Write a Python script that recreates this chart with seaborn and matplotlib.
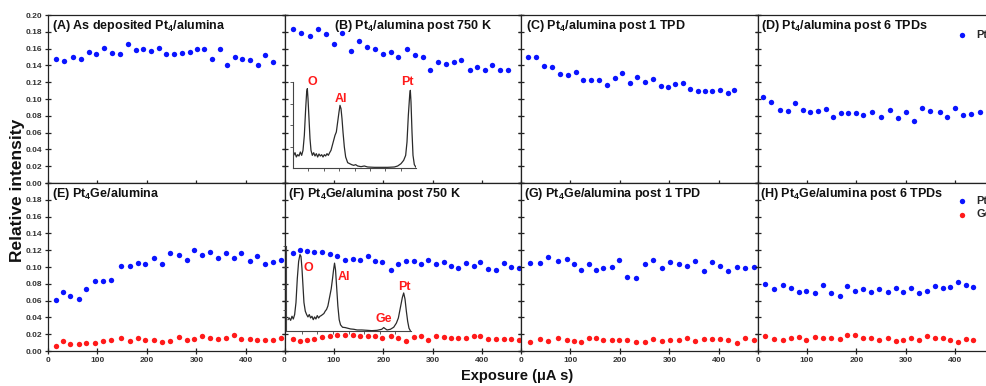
import numpy as np
import pandas as pd
import matplotlib
matplotlib.use("Agg")
import matplotlib.pyplot as plt
import seaborn as sns

# ---------------- data ----------------
panel_titles = [
    "(A) As deposited Pt$_4$/alumina",
    "(B) Pt$_4$/alumina post 750 K",
    "(C) Pt$_4$/alumina post 1 TPD",
    "(D) Pt$_4$/alumina post 6 TPDs",
    "(E) Pt$_4$Ge/alumina",
    "(F) Pt$_4$Ge/alumina post 750 K",
    "(G) Pt$_4$Ge/alumina post 1 TPD",
    "(H) Pt$_4$Ge/alumina post 6 TPDs",
]

xA = [16, 32, 51, 66, 82, 98, 114, 130, 145, 161, 177, 193, 208, 224, 239, 254, 270, 286, 301, 316,
      332, 347, 362, 378, 393, 409, 424, 439, 454]
ptA = [.148, .145, .150, .148, .156, .154, .161, .155, .154, .166, .158, .160, .157, .161, .154, .154,
       .155, .156, .160, .160, .148, .160, .141, .150, .148, .146, .141, .152, .144]

xB = [17, 34, 51, 68, 84, 100, 117, 134, 150, 166, 183, 199, 215, 230, 247, 263, 279, 295, 310, 326,
      342, 357, 374, 389, 405, 420, 436, 451]
ptB = [.183, .178, .175, .183, .177, .165, .179, .157, .169, .162, .160, .154, .156, .150, .159, .152,
       .150, .135, .144, .142, .144, .147, .134, .138, .134, .140, .134, .135]

xC = [15, 30, 47, 63, 79, 95, 112, 126, 142, 158, 173, 189, 204, 220, 235, 251, 266, 282, 298, 312,
      327, 342, 357, 372, 387, 403, 418, 430]
ptC = [.150, .150, .139, .138, .130, .129, .132, .123, .123, .123, .117, .125, .131, .119, .126, .120,
       .124, .116, .114, .118, .119, .112, .110, .110, .110, .111, .107, .111]

xD = [12, 28, 45, 61, 76, 92, 107, 122, 138, 153, 168, 183, 199, 214, 232, 249, 267, 283, 300, 316,
      333, 349, 368, 384, 400, 416, 432, 449]
ptD = [.102, .096, .087, .086, .095, .087, .084, .086, .088, .079, .083, .083, .083, .081, .085, .079,
       .087, .077, .084, .074, .089, .086, .085, .079, .089, .081, .082, .085]

xE = [16, 31, 45, 62, 77, 95, 111, 128, 147, 165, 181, 197, 214, 230, 247, 264, 280, 296, 312, 327,
      343, 360, 375, 391, 408, 423, 439, 455, 470]
ptE = [.061, .070, .065, .062, .074, .083, .083, .084, .101, .101, .105, .104, .111, .104, .117, .114,
       .108, .120, .114, .118, .111, .117, .111, .117, .107, .113, .104, .106, .108]
geE = [.006, .012, .008, .008, .0095, .009, .012, .0127, .016, .012, .015, .013, .0135, .011, .0115,
       .0167, .0135, .0147, .018, .016, .0143, .016, .0195, .0147, .0143, .013, .0135, .0127, .0155]

xF = [17, 32, 45, 60, 76, 91, 107, 122, 138, 153, 168, 183, 198, 215, 230, 246, 261, 275, 291, 306,
      322, 337, 351, 367, 382, 396, 412, 428, 443, 458, 473]
ptF = [.117, .120, .119, .118, .118, .116, .113, .108, .110, .1085, .113, .107, .106, .097, .104, .107,
       .107, .103, .108, .104, .106, .101, .099, .105, .101, .106, .098, .097, .105, .100, .099]
geF = [.0147, .0115, .0135, .0147, .0163, .0175, .0187, .0187, .0187, .0175, .0175, .018, .016, .018,
       .016, .012, .017, .0175, .0135, .0175, .017, .0155, .0155, .015, .0175, .018, .0147, .014, .014,
       .014, .013]

xG = [19, 39, 55, 75, 92, 107, 122, 138, 151, 166, 183, 199, 214, 233, 250, 267, 285, 301, 320, 336,
      352, 370, 387, 403, 419, 437, 453, 470]
ptG = [.105, .105, .112, .107, .110, .104, .097, .104, .096, .099, .100, .108, .088, .087, .104, .108,
       .099, .106, .104, .101, .107, .095, .106, .101, .095, .100, .099, .100]
geG = [.011, .014, .012, .016, .0127, .012, .011, .016, .0155, .0127, .0127, .0127, .0127, .011, .011,
       .014, .0115, .0135, .0135, .016, .012, .014, .014, .014, .013, .009, .015, .0135]

xH = [16, 33, 51, 67, 83, 99, 117, 133, 149, 166, 181, 198, 214, 230, 246, 263, 279, 294, 311, 327,
      342, 358, 374, 390, 406, 421, 435]
ptH = [.080, .074, .078, .075, .070, .072, .069, .079, .0695, .066, .0775, .072, .074, .0707, .074,
       .0707, .075, .070, .0755, .069, .0715, .077, .0747, .076, .082, .078, .076]
geH = [.018, .014, .0135, .016, .0167, .0135, .017, .015, .0155, .0147, .0187, .0195, .015, .016,
       .0135, .016, .012, .0135, .015, .0135, .0175, .0155, .0155, .013, .011, .014, .0127]

# LEIS inset spectra (channel, counts; arbitrary units)
specB_ch = [2, 6, 10, 14, 18, 22, 26, 30, 34, 38, 41, 43, 45, 48, 51, 54, 58, 62, 66, 70,
            74, 78, 82, 86, 90, 94, 98, 102, 106, 110, 114, 118, 122, 126, 130, 134, 138, 141, 144, 147,
            150, 154, 158, 164, 170, 176, 182, 188, 194, 204, 214, 224, 244, 264, 284, 304, 314, 324, 332, 338,
            342, 346, 350, 352, 354, 357, 360, 364, 369]
specB_counts = [38, 46, 33, 40, 36, 48, 38, 53, 98, 178, 228, 238, 208, 148, 88, 53, 38, 46, 36, 43,
                33, 42, 36, 40, 33, 40, 36, 43, 38, 46, 53, 68, 83, 98, 108, 138, 168, 188, 178, 148,
                108, 63, 33, 16, 13, 10, 8, 10, 6, 4, 6, 3, 2, 2, 2, 3, 6, 13, 23, 38,
                78, 158, 218, 233, 198, 108, 38, 10, 2]
specF_ch = [6, 10, 14, 18, 22, 26, 30, 34, 38, 42, 45, 48, 51, 54, 58, 62, 66, 70, 74, 78,
            82, 86, 90, 94, 98, 102, 106, 110, 114, 118, 122, 126, 129, 132, 136, 140, 143, 146, 149, 152,
            156, 160, 164, 170, 178, 186, 194, 204, 214, 228, 244, 258, 274, 288, 294, 298, 304, 314, 324, 332,
            338, 344, 350, 354, 358, 362, 366, 370, 374]
specF_counts = [33, 38, 31, 43, 35, 48, 83, 153, 203, 223, 218, 183, 133, 83, 58, 48, 41, 48, 38, 43,
                33, 41, 35, 45, 38, 43, 45, 48, 51, 58, 63, 73, 88, 103, 123, 153, 178, 198, 178, 133,
                73, 33, 18, 11, 10, 8, 6, 5, 3, 3, 2, 1, 2, 5, 10, 7, 3, 5, 11, 23,
                38, 68, 98, 111, 93, 58, 28, 8, 1]

y_ticks = [0.00, 0.02, 0.04, 0.06, 0.08, 0.10, 0.12, 0.14, 0.16, 0.18, 0.20]
x_ticks = [0, 100, 200, 300, 400]

# ---------------- style ----------------
sns.set_theme(style="ticks")
plt.rcParams["font.family"] = ["Liberation Sans", "DejaVu Sans"]
plt.rcParams["font.weight"] = "bold"
plt.rcParams["mathtext.fontset"] = "custom"
plt.rcParams["mathtext.rm"] = "Liberation Sans:bold"
plt.rcParams["mathtext.it"] = "Liberation Sans:bold"
plt.rcParams["mathtext.bf"] = "Liberation Sans:bold"
plt.rcParams["mathtext.default"] = "rm"

BLUE = "#0a14ff"
RED = "#ff1a1a"
SPINE = "#222222"
W, H = 986, 386
fig = plt.figure(figsize=(W / 100, H / 100), dpi=100)

lefts = [48, 284.5, 521, 757.5]
pw = 236.5
rows = [(15, 183), (183, 351)]

panels = [
    (xA, ptA, None), (xB, ptB, None), (xC, ptC, None), (xD, ptD, None),
    (xE, ptE, geE), (xF, ptF, geF), (xG, ptG, geG), (xH, ptH, geH),
]
title_x = [0.017, 0.21, 0.02, 0.015, 0.017, 0.013, 0.013, 0.012]

axes = []
for i, (xs, pt, ge) in enumerate(panels):
    r, c = divmod(i, 4)
    top, bot = rows[r]
    ax = fig.add_axes([lefts[c] / W, 1 - bot / H, pw / W, (bot - top) / H])
    axes.append(ax)
    df = pd.DataFrame({"Exposure": xs, "Pt": pt})
    sns.scatterplot(data=df, x="Exposure", y="Pt", ax=ax, color=BLUE, s=15,
                    linewidth=0, legend=False, label="Pt", zorder=3)
    if ge is not None:
        dg = pd.DataFrame({"Exposure": xs, "Ge": ge})
        sns.scatterplot(data=dg, x="Exposure", y="Ge", ax=ax, color=RED, s=15,
                        linewidth=0, legend=False, label="Ge", zorder=3)
    ax.set_xlim(0, 478)
    ax.set_ylim(0, 0.20)
    ax.set_xticks(x_ticks)
    ax.set_yticks(y_ticks)
    ax.set_xlabel("")
    ax.set_ylabel("")
    for sp in ax.spines.values():
        sp.set_visible(True)
        sp.set_color(SPINE)
        sp.set_linewidth(0.9)
    ax.tick_params(axis="both", direction="inout", length=5, width=0.9, color=SPINE,
                   labelsize=6, labelcolor="#333333", pad=2)
    ax.tick_params(axis="y", right=True, left=True)
    ax.tick_params(axis="x", top=False)
    if r == 0:
        ax.set_xticklabels([])
    else:
        ax.set_xticklabels([str(t) for t in x_ticks], fontweight="bold")
    if c == 0:
        labs = [f"{t:.2f}" for t in y_ticks]
        if r == 1:
            labs[-1] = ""
        ax.set_yticklabels(labs, fontweight="bold")
    else:
        ax.set_yticklabels([])
    ax.text(title_x[i], 0.935, panel_titles[i], transform=ax.transAxes,
            fontsize=9, fontweight="bold", ha="left", va="center", color="#111111")

# legends (partly cut by the right edge, as in the reference)
for k, y_anchor in ((3, 0.912), (7, 0.925)):
    hd, lb = axes[k].get_legend_handles_labels()
    axes[k].legend(hd, lb, loc="upper left", bbox_to_anchor=(0.841, y_anchor), frameon=False,
                   fontsize=8, handlelength=1.0, handletextpad=0.8, labelspacing=0.35,
                   borderpad=0, borderaxespad=0, scatterpoints=1)


def add_inset(rect_px, ch, counts, xmax, ymax, labels):
    l, t, r, b = rect_px
    iax = fig.add_axes([l / W, 1 - b / H, (r - l) / W, (b - t) / H])
    iax.patch.set_alpha(0)
    sdf = pd.DataFrame({"ch": ch, "counts": counts})
    sns.lineplot(data=sdf, x="ch", y="counts", ax=iax, color="#2b2b2b", linewidth=0.9)
    iax.set_xlim(0, xmax)
    iax.set_ylim(0, ymax)
    iax.set_xlabel("")
    iax.set_ylabel("")
    iax.spines["top"].set_visible(False)
    iax.spines["right"].set_visible(False)
    for s in ("left", "bottom"):
        iax.spines[s].set_color("#444444")
        iax.spines[s].set_linewidth(0.8)
    iax.set_xticks(np.linspace(0, xmax, 9)[1:-1])
    iax.set_yticks(np.linspace(0, ymax, 5)[1:])
    iax.tick_params(direction="out", length=2, width=0.6, color="#444444",
                    labelbottom=False, labelleft=False)
    for txt, xx, yy in labels:
        iax.text(xx, yy, txt, transform=iax.transAxes, color=RED, fontsize=9,
                 fontweight="bold", ha="center", va="center", clip_on=False)
    return iax


add_inset((293, 82, 416, 168), specB_ch, specB_counts, 369, 258,
          [("O", 0.155, 1.0), ("Al", 0.39, 0.80), ("Pt", 0.93, 1.0)])
add_inset((286, 246, 411, 331), specF_ch, specF_counts, 376, 248,
          [("O", 0.176, 0.74), ("Al", 0.464, 0.635), ("Ge", 0.784, 0.14), ("Pt", 0.944, 0.52)])

fig.text(18 / W, 1 - 190 / H, "Relative intensity", rotation=90, fontsize=12.5,
         fontweight="bold", ha="center", va="center", color="#111111")
fig.text(517 / W, 1 - 376 / H, "Exposure (μA s)", fontsize=10.5,
         fontweight="bold", ha="center", va="center", color="#111111")

fig.savefig("out.png", dpi=100, facecolor="white")
